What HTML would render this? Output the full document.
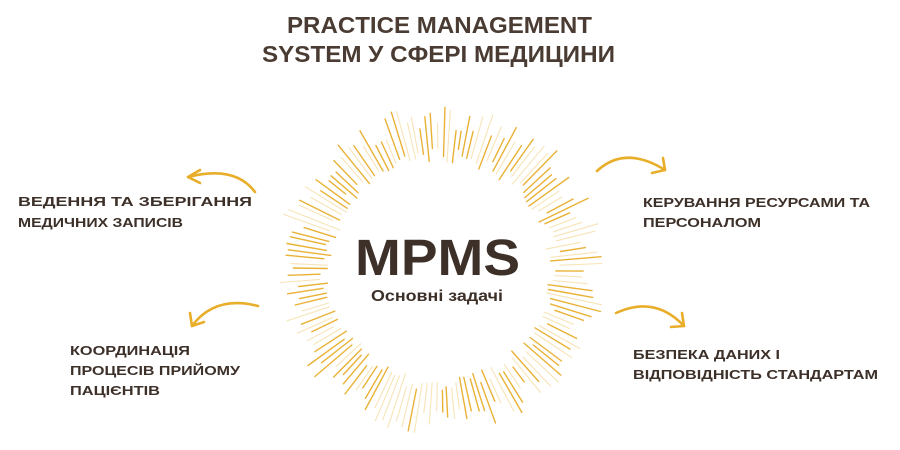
<!DOCTYPE html>
<html><head><meta charset="utf-8"><style>
html,body{margin:0;padding:0;background:#fff;width:900px;height:450px;overflow:hidden}
svg text{font-family:"Liberation Sans",sans-serif;font-weight:bold;fill:#3d3029}
</style></head><body>
<svg id="s" width="900" height="450" viewBox="0 0 900 450" xmlns="http://www.w3.org/2000/svg">
<g id="rays"></g>
<text x="287" y="33" font-size="23" textLength="305" lengthAdjust="spacingAndGlyphs" style="fill:#4a3c33">PRACTICE MANAGEMENT</text>
<text x="262" y="62" font-size="23" textLength="353" lengthAdjust="spacingAndGlyphs" style="fill:#4a3c33">SYSTEM У СФЕРІ МЕДИЦИНИ</text>
<text x="355" y="275" font-size="51" textLength="165" lengthAdjust="spacingAndGlyphs">MPMS</text>
<text x="371" y="301" font-size="16" textLength="132" lengthAdjust="spacingAndGlyphs">Основні задачі</text>
<g font-size="13">
<text x="18" y="206" textLength="234" lengthAdjust="spacingAndGlyphs">ВЕДЕННЯ ТА ЗБЕРІГАННЯ</text>
<text x="18" y="227" textLength="165" lengthAdjust="spacingAndGlyphs">МЕДИЧНИХ ЗАПИСІВ</text>
<text x="643" y="207" textLength="227" lengthAdjust="spacingAndGlyphs">КЕРУВАННЯ РЕСУРСАМИ ТА</text>
<text x="643" y="227" textLength="118" lengthAdjust="spacingAndGlyphs">ПЕРСОНАЛОМ</text>
<text x="70" y="355" textLength="120" lengthAdjust="spacingAndGlyphs">КООРДИНАЦІЯ</text>
<text x="70" y="375" textLength="170" lengthAdjust="spacingAndGlyphs">ПРОЦЕСІВ ПРИЙОМУ</text>
<text x="70" y="395" textLength="90" lengthAdjust="spacingAndGlyphs">ПАЦІЄНТІВ</text>
<text x="633" y="359" textLength="147" lengthAdjust="spacingAndGlyphs">БЕЗПЕКА ДАНИХ І</text>
<text x="633" y="379" textLength="245" lengthAdjust="spacingAndGlyphs">ВІДПОВІДНІСТЬ СТАНДАРТАМ</text>
</g>
<g fill="none" stroke="#E8AE2A" stroke-width="2.6" stroke-linecap="round" stroke-linejoin="round">
<path d="M255 192 Q235 165 188 177"/><path d="M200 170 L188 177 L200 183"/>
<path d="M258 306 Q215 295 192 326"/><path d="M190 313 L192 326 L204 322"/>
<path d="M597 171 Q625 145 665 170"/><path d="M663 158 L665 170 L652 173"/>
<path d="M616 313 Q655 295 684 326"/><path d="M682 313 L684 326 L671 327"/>
</g>
</svg>
<script>
(function(){
var g=document.getElementById('rays'),cx=440,cy=270,n=150,s='';
var seed=7;function r(){seed=(seed*9301+49297)%233280;return seed/233280;}
for(var i=0;i<n;i++){
 var a=i/n*Math.PI*2+ r()*0.015;
 var ri=108+r()*14, ro=140+r()*27;
 var gold=r()<0.55;
 var c=gold?'#E9B237':'#F7E4B8';
 var w=gold?1.4:1.1;
 s+='<line x1="'+(cx+ri*Math.cos(a)).toFixed(1)+'" y1="'+(cy+ri*Math.sin(a)).toFixed(1)+'" x2="'+(cx+ro*Math.cos(a)).toFixed(1)+'" y2="'+(cy+ro*Math.sin(a)).toFixed(1)+'" stroke="'+c+'" stroke-width="'+w+'" stroke-linecap="round"/>';
}
g.innerHTML=s;
})();
</script>
</body></html>
